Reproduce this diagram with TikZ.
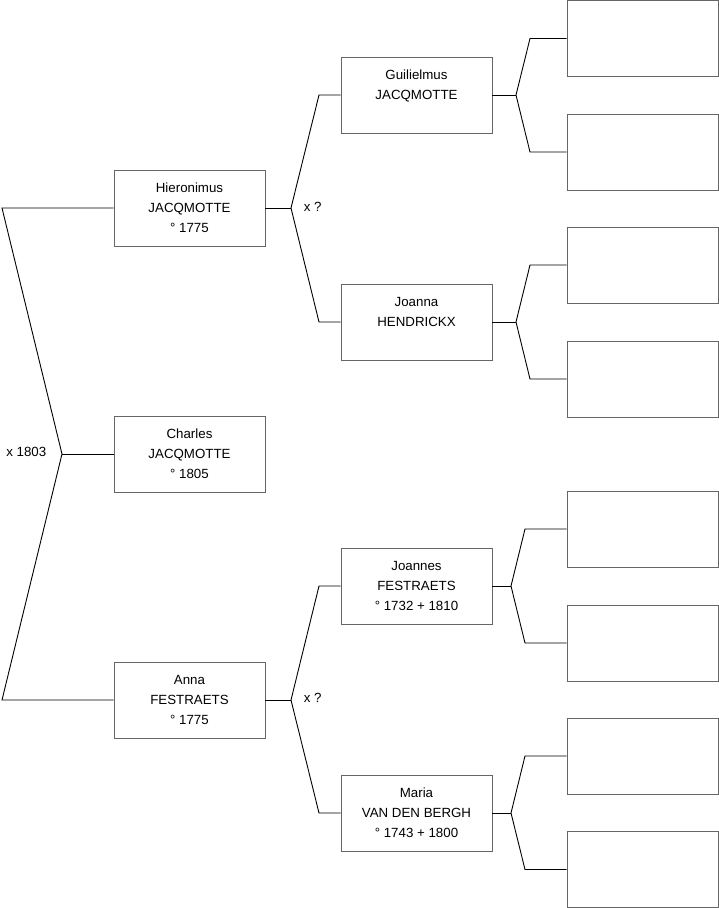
\documentclass[tikz,border=0pt]{standalone}
\usepackage{fontspec}
\setmainfont{Liberation Sans}
\begin{document}
\begin{tikzpicture}[x=1pt,y=-1pt,line width=0.9pt,
  person/.style={draw=black!60, fill=white, minimum width=151, minimum height=76,
    inner sep=0, align=center, font=\fontsize{13.3}{20}\selectfont},
  wedlock/.style={font=\fontsize{13.3}{20}\selectfont}]
\useasboundingbox (0,0) rectangle (719,908);
% generation 1
\node[person] (hier) at (189.5,208) {Hieronimus\\JACQMOTTE\\° 1775};
\node[person] (charles) at (189.5,454) {Charles\\JACQMOTTE\\° 1805};
\node[person] (anna) at (189.5,700) {Anna\\FESTRAETS\\° 1775};
% generation 2
\node[person] (guil) at (416.5,95) {Guilielmus\\JACQMOTTE\\\phantom{° 1775}};
\node[person] (joanna) at (416.5,322) {Joanna\\HENDRICKX\\\phantom{° 1775}};
\node[person] (joannes) at (416.5,586) {Joannes\\FESTRAETS\\° 1732 + 1810};
\node[person] (maria) at (416.5,813) {Maria\\VAN DEN BERGH\\° 1743 + 1800};
% generation 3 (empty)
\foreach \y [count=\i] in {38.5,152,265,379,529,643,756,869.5}
  \node[person] (anc\i) at (642.5,\y) {};
% marriages
\coordinate (m0) at (62,454);
\draw (charles.west) -- (m0);
\draw (hier.west) -- (2,208) -- (m0) -- (2,700) -- (anna.west);
\node[wedlock, anchor=east] (x0) at (50,452) {x 1803};
\coordinate (m1) at (291,208);
\draw (hier.east) -- (m1);
\draw (guil.west) -- (319,95) -- (m1) -- (319,322) -- (joanna.west);
\node[wedlock, anchor=west] (x1) at (300,207) {x ?};
\coordinate (m2) at (291,700);
\draw (anna.east) -- (m2);
\draw (joannes.west) -- (319,586) -- (m2) -- (319,813) -- (maria.west);
\node[wedlock, anchor=west] (x2) at (300,698) {x ?};
% parents of generation 2
\coordinate (g1) at (516,95);
\draw (guil.east) -- (g1);
\draw (anc1.west) -- (530,38.5) -- (g1) -- (530,152) -- (anc2.west);
\coordinate (g2) at (516,322);
\draw (joanna.east) -- (g2);
\draw (anc3.west) -- (530,265) -- (g2) -- (530,379) -- (anc4.west);
\coordinate (g3) at (511,586);
\draw (joannes.east) -- (g3);
\draw (anc5.west) -- (525,529) -- (g3) -- (525,643) -- (anc6.west);
\coordinate (g4) at (511,813);
\draw (maria.east) -- (g4);
\draw (anc7.west) -- (525,756) -- (g4) -- (525,869.5) -- (anc8.west);
\end{tikzpicture}
\end{document}
